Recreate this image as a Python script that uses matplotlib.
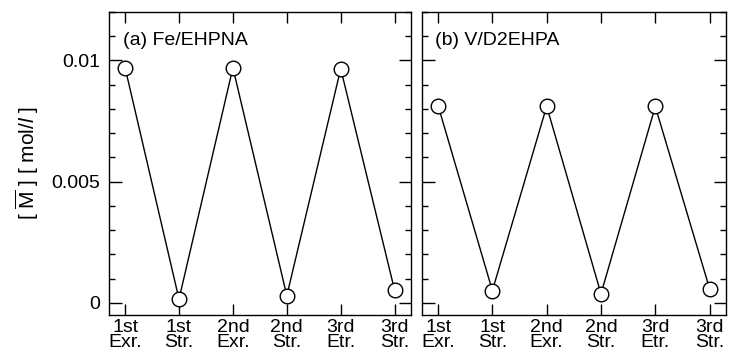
import matplotlib
matplotlib.use("Agg")
import matplotlib.pyplot as plt
from matplotlib.ticker import MultipleLocator

plt.rcParams['font.family'] = ['Liberation Sans', 'DejaVu Sans']
plt.rcParams['mathtext.fontset'] = 'custom'
plt.rcParams['mathtext.rm'] = 'Liberation Sans'
plt.rcParams['mathtext.it'] = 'Liberation Sans:italic'

steps = ['1st\nExr.', '1st\nStr.', '2nd\nExr.', '2nd\nStr.', '3rd\nEtr.', '3rd\nStr.']
fe_ehpna = [0.00970, 0.00015, 0.00970, 0.00029, 0.00966, 0.00051]
v_d2ehpa = [0.00814, 0.00050, 0.00811, 0.00037, 0.00810, 0.00058]
titles = ['(a) Fe/EHPNA', '(b) V/D2EHPA']

fig = plt.figure(figsize=(7.31, 3.53), dpi=100)
ax1 = fig.add_axes([0.149, 0.108, 0.413, 0.858])
ax2 = fig.add_axes([0.577, 0.108, 0.416, 0.858])

x = list(range(len(steps)))
for ax, vals, title in zip([ax1, ax2], [fe_ehpna, v_d2ehpa], titles):
    ax.plot(x, vals, color='black', lw=1.0, marker='o', ms=10.5,
            mfc='white', mec='black', mew=1.0, zorder=3)
    ax.set_xlim(-0.3, 5.3)
    ax.set_ylim(-0.0005, 0.012)
    ax.set_xticks(x)
    ax.set_xticklabels(steps, fontsize=13.5, linespacing=0.88)
    ax.yaxis.set_major_locator(MultipleLocator(0.005))
    ax.yaxis.set_minor_locator(MultipleLocator(0.001))
    ax.tick_params(which='major', direction='in', length=9, width=1,
                   top=True, right=True, labelsize=14, pad=6)
    ax.tick_params(axis='x', which='major', length=8, pad=3)
    ax.tick_params(which='minor', direction='in', length=4.5, width=1,
                   right=True, left=True)
    ax.xaxis.set_minor_locator(plt.NullLocator())
    for s in ax.spines.values():
        s.set_linewidth(1.0)
    ax.text(0.045, 0.905, title, transform=ax.transAxes, fontsize=14,
            va='center', ha='left')

ax1.set_yticks([0, 0.005, 0.01])
ax1.set_yticklabels(['0', '0.005', '0.01'])
ax2.tick_params(axis='y', labelleft=False)
ax1.set_ylabel(r'[ $\overline{\mathrm{M}}$ ] [ mol/$\mathit{l}$ ]', fontsize=15, labelpad=8)

fig.savefig('out.png', dpi=100)
